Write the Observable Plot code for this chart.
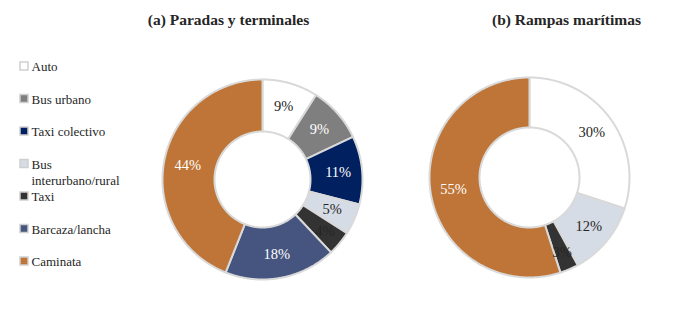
<!DOCTYPE html>
<html>
<head>
<meta charset="utf-8">
<script src="https://cdn.jsdelivr.net/npm/d3@7"></script>
<script src="https://cdn.jsdelivr.net/npm/@observablehq/plot@0.6"></script>
<style>
  html, body { margin: 0; padding: 0; background: #fff; }
</style>
</head>
<body>
<div id="chart"></div>
<script>
// ---- Data ----
const modes = ["Auto", "Bus urbano", "Taxi colectivo", "Bus interurbano/rural", "Taxi", "Barcaza/lancha", "Caminata"];
const modeColors = ["#ffffff", "#7f7f7f", "#002060", "#d6dce5", "#333333", "#45557f", "#be7537"];
const lightLabelModes = ["Bus urbano", "Taxi colectivo", "Barcaza/lancha", "Caminata"];

const paradasModes = ["Auto", "Bus urbano", "Taxi colectivo", "Bus interurbano/rural", "Taxi", "Barcaza/lancha", "Caminata"];
const paradasValues = [9, 9, 11, 5, 4, 18, 44];

const rampasModes = ["Auto", "Bus interurbano/rural", "Taxi", "Caminata"];
const rampasValues = [30, 12, 3, 55];

const titles = ["(a) Paradas y terminales", "(b) Rampas marítimas"];

// ---- Layout ----
const W = 679, H = 313;
const FONT = "'Liberation Serif', 'Times New Roman', serif";
const donuts = [
  {key: "a", cats: paradasModes, values: paradasValues, cx: 262, cy: 179, r0: 48, r1: 100, titleX: 228},
  {key: "b", cats: rampasModes, values: rampasValues, cx: 529, cy: 177, r0: 50, r1: 100, titleX: 566}
];

const polys = [], labels = [];
donuts.forEach(dn => {
  const total = d3.sum(dn.values);
  let acc = 0;
  const rm = (dn.r0 + dn.r1) / 2 + 2;
  dn.values.forEach((v, i) => {
    const a0 = acc / total * 2 * Math.PI;
    const a1 = (acc + v) / total * 2 * Math.PI;
    acc += v;
    const key = dn.key + i;
    const mode = dn.cats[i];
    const n = Math.max(2, Math.ceil((a1 - a0) / 0.01));
    for (let k = 0; k <= n; k++) {
      const a = a0 + (a1 - a0) * k / n;
      polys.push({key, mode, x: dn.cx + dn.r1 * Math.sin(a), y: dn.cy - dn.r1 * Math.cos(a)});
    }
    for (let k = n; k >= 0; k--) {
      const a = a0 + (a1 - a0) * k / n;
      polys.push({key, mode, x: dn.cx + dn.r0 * Math.sin(a), y: dn.cy - dn.r0 * Math.cos(a)});
    }
    const mid = (a0 + a1) / 2;
    const r = v < 5 ? rm + 5 : rm;
    labels.push({mode, text: v + "%", x: dn.cx + r * Math.sin(mid), y: dn.cy - r * Math.cos(mid)});
  });
});

const legend = modes.map((m, i) => ({mode: m, y: 66 + i * 32.5}));
const titleData = titles.map((t, i) => ({text: t, x: donuts[i].titleX, y: 20}));

const plot = Plot.plot({
  width: W,
  height: H,
  margin: 0,
  x: {domain: [0, W], range: [0, W], axis: null},
  y: {domain: [0, H], range: [0, H], axis: null},
  color: {domain: modes, range: modeColors},
  style: {fontFamily: FONT, background: "#fff"},
  marks: [
    Plot.line(polys, {x: "x", y: "y", z: "key", fill: "mode", stroke: "#d9d9d9", strokeWidth: 2, curve: "linear-closed"}),
    Plot.text(labels.filter(d => !lightLabelModes.includes(d.mode)), {x: "x", y: "y", text: "text", fill: "#262626", fontSize: 14.5, fontFamily: FONT}),
    Plot.text(labels.filter(d => lightLabelModes.includes(d.mode)), {x: "x", y: "y", text: "text", fill: "#ffffff", fontSize: 14.5, fontFamily: FONT}),
    Plot.rect(legend, {x1: 20, x2: 28, y1: d => d.y - 4, y2: d => d.y + 4, fill: "mode", stroke: "#cfcfcf", strokeWidth: 1.5}),
    Plot.text(legend, {x: 31, y: d => d.y - 7.5, text: "mode", textAnchor: "start", lineAnchor: "top", lineWidth: 8.5, lineHeight: 1.3, fontSize: 13, fill: "#262626", fontFamily: FONT}),
    Plot.text(titleData, {x: "x", y: "y", text: "text", fontSize: 15.5, fontWeight: "bold", fill: "#262626", fontFamily: FONT})
  ]
});
document.getElementById("chart").appendChild(plot);
</script>
</body>
</html>
